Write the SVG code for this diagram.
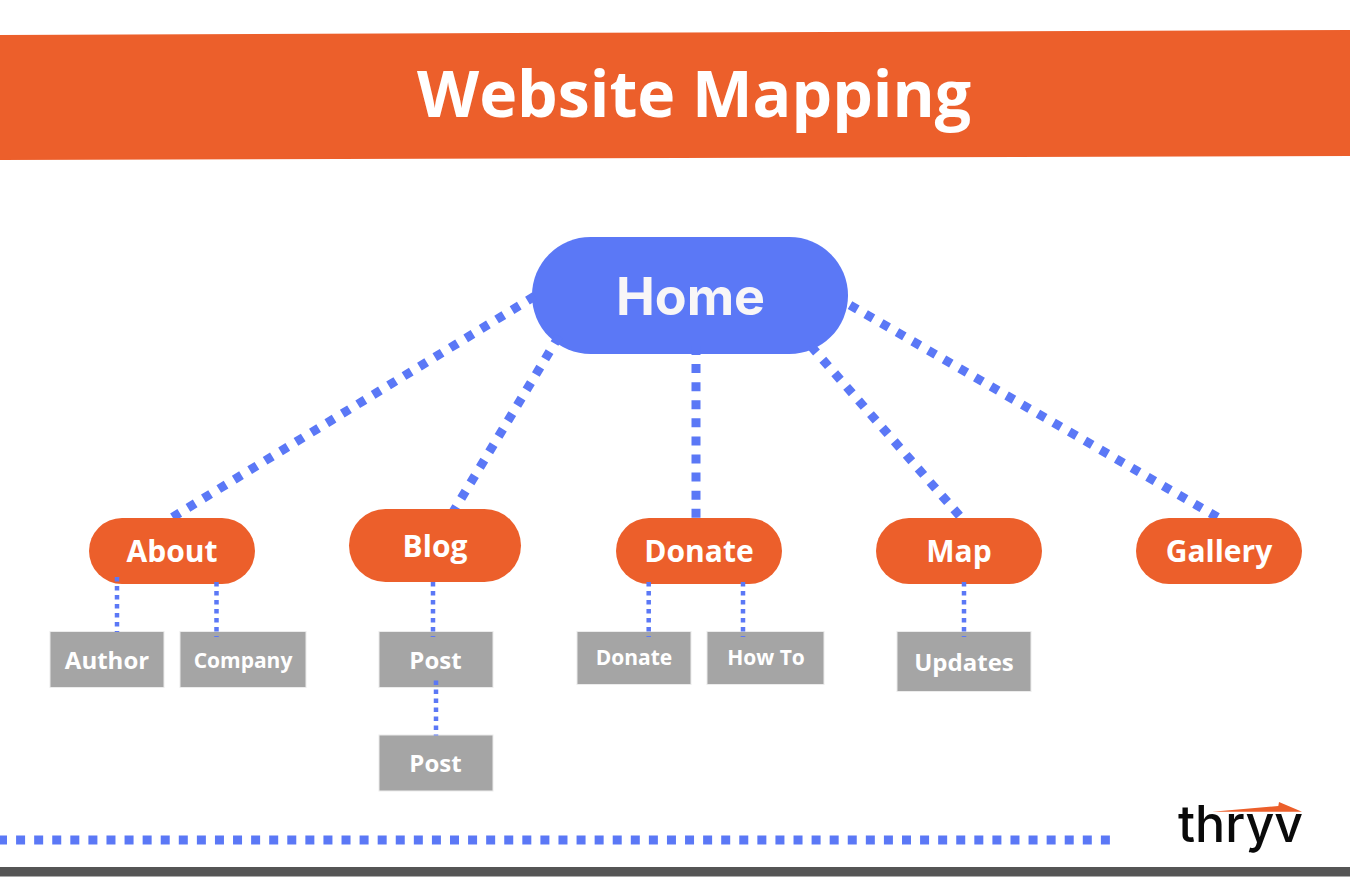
<svg xmlns="http://www.w3.org/2000/svg" width="1350" height="888" viewBox="0 0 1350 888">
<style>
.t{font-family:"Open Sans","Noto Sans","Liberation Sans",sans-serif;font-weight:700;fill:#fff;text-anchor:middle}
.o{fill:#ec5f2b}
.g{fill:#a5a5a5;stroke:#ececec;stroke-width:1}
.big{fill:none;stroke:#5b78f6;stroke-width:9;stroke-dasharray:8.500 9.58}
.vert{fill:none;stroke:#5b78f6;stroke-width:9;stroke-dasharray:9 9.08}
.small{fill:none;stroke:#5b78f6;stroke-width:4.5;stroke-dasharray:4.5 4.5}
</style>
<defs>
<clipPath id="c518"><rect x="0" y="0" width="1350" height="518"/></clipPath>
<clipPath id="c509"><rect x="0" y="0" width="1350" height="509"/></clipPath>
</defs>
<rect width="1350" height="888" fill="#fff"/>
<g id="banner">
<polygon points="0,35 1350,30 1350,156 0,160" fill="#ec5f2b"/>
<text class="t" x="694" y="116.500" font-size="64.300">Website Mapping</text>
</g>
<g id="home"><rect x="532" y="237" width="316" height="117" rx="58.500" fill="#5b78f6"/><text x="690.500" y="315" font-family="Inter,'Liberation Sans',sans-serif" font-weight="700" font-size="52" fill="#f8f6f7" text-anchor="middle">Home</text></g>
<g id="about"><rect class="o" x="89" y="518" width="166" height="66" rx="33"/><text class="t" x="172" y="562" font-size="30">About</text></g>
<g id="blog"><rect class="o" x="349" y="509" width="172" height="73" rx="36.500"/><text class="t" x="435" y="557" font-size="30">Blog</text></g>
<g id="donate"><rect class="o" x="616" y="518" width="166" height="66" rx="33"/><text class="t" x="699" y="562" font-size="30">Donate</text></g>
<g id="map"><rect class="o" x="876" y="518" width="166" height="66" rx="33"/><text class="t" x="959" y="562" font-size="30">Map</text></g>
<g id="gallery"><rect class="o" x="1136" y="518" width="166" height="66" rx="33"/><text class="t" x="1219" y="562" font-size="30">Gallery</text></g>
<g id="author"><rect class="g" x="50" y="631.500" width="114" height="56"/><text class="t" x="107" y="669" font-size="24">Author</text></g>
<g id="company"><rect class="g" x="180" y="631.500" width="126" height="56"/><text class="t" x="243" y="668" font-size="21">Company</text></g>
<g id="post1"><rect class="g" x="379" y="631.500" width="114" height="56"/><text class="t" x="435.500" y="669" font-size="24">Post</text></g>
<g id="post2"><rect class="g" x="379" y="735" width="114" height="56"/><text class="t" x="435.500" y="772" font-size="24">Post</text></g>
<g id="donate-sub"><rect class="g" x="577" y="631.500" width="114" height="53"/><text class="t" x="634" y="665" font-size="21">Donate</text></g>
<g id="howto"><rect class="g" x="707" y="631.500" width="117" height="53"/><text class="t" x="766" y="665" font-size="21">How To</text></g>
<g id="updates"><rect class="g" x="897" y="631.500" width="134" height="60"/><text class="t" x="964" y="671" font-size="24">Updates</text></g>
<g id="connectors">
<path class="big" clip-path="url(#c518)" d="M534.700 296.200L170 518.800"/>
<path class="big" clip-path="url(#c509)" d="M558.900 336.200L450 517"/>
<path class="vert" clip-path="url(#c518)" d="M696 346V520"/>
<path class="big" clip-path="url(#c518)" d="M810.900 346.100L965 522"/>
<path class="big" clip-path="url(#c518)" d="M850 305.100L1225 521.600"/>
<path class="small" d="M117 577V632"/>
<path class="small" d="M216.500 582V637"/>
<path class="small" d="M433 582V637"/>
<path class="small" d="M436 680.500V735.500"/>
<path class="small" d="M648.700 582V637"/>
<path class="small" d="M743 582V637"/>
<path class="small" d="M964 582V637"/>
</g>
<g id="footer">
<path class="vert" d="M0 840H1111" stroke-dashoffset="2"/>
<rect x="0" y="867" width="1350" height="9.500" fill="#555"/>
</g>
<g id="logo">
<polygon points="1212,811.700 1278.300,806 1279,802 1302,811.700" fill="#ec5f2b"/>
<text x="1178" y="842" font-family="Inter,Lato,sans-serif" font-size="51" font-weight="500" fill="#0a0a0a" textLength="125" lengthAdjust="spacingAndGlyphs">thryv</text>
</g>
</svg>
